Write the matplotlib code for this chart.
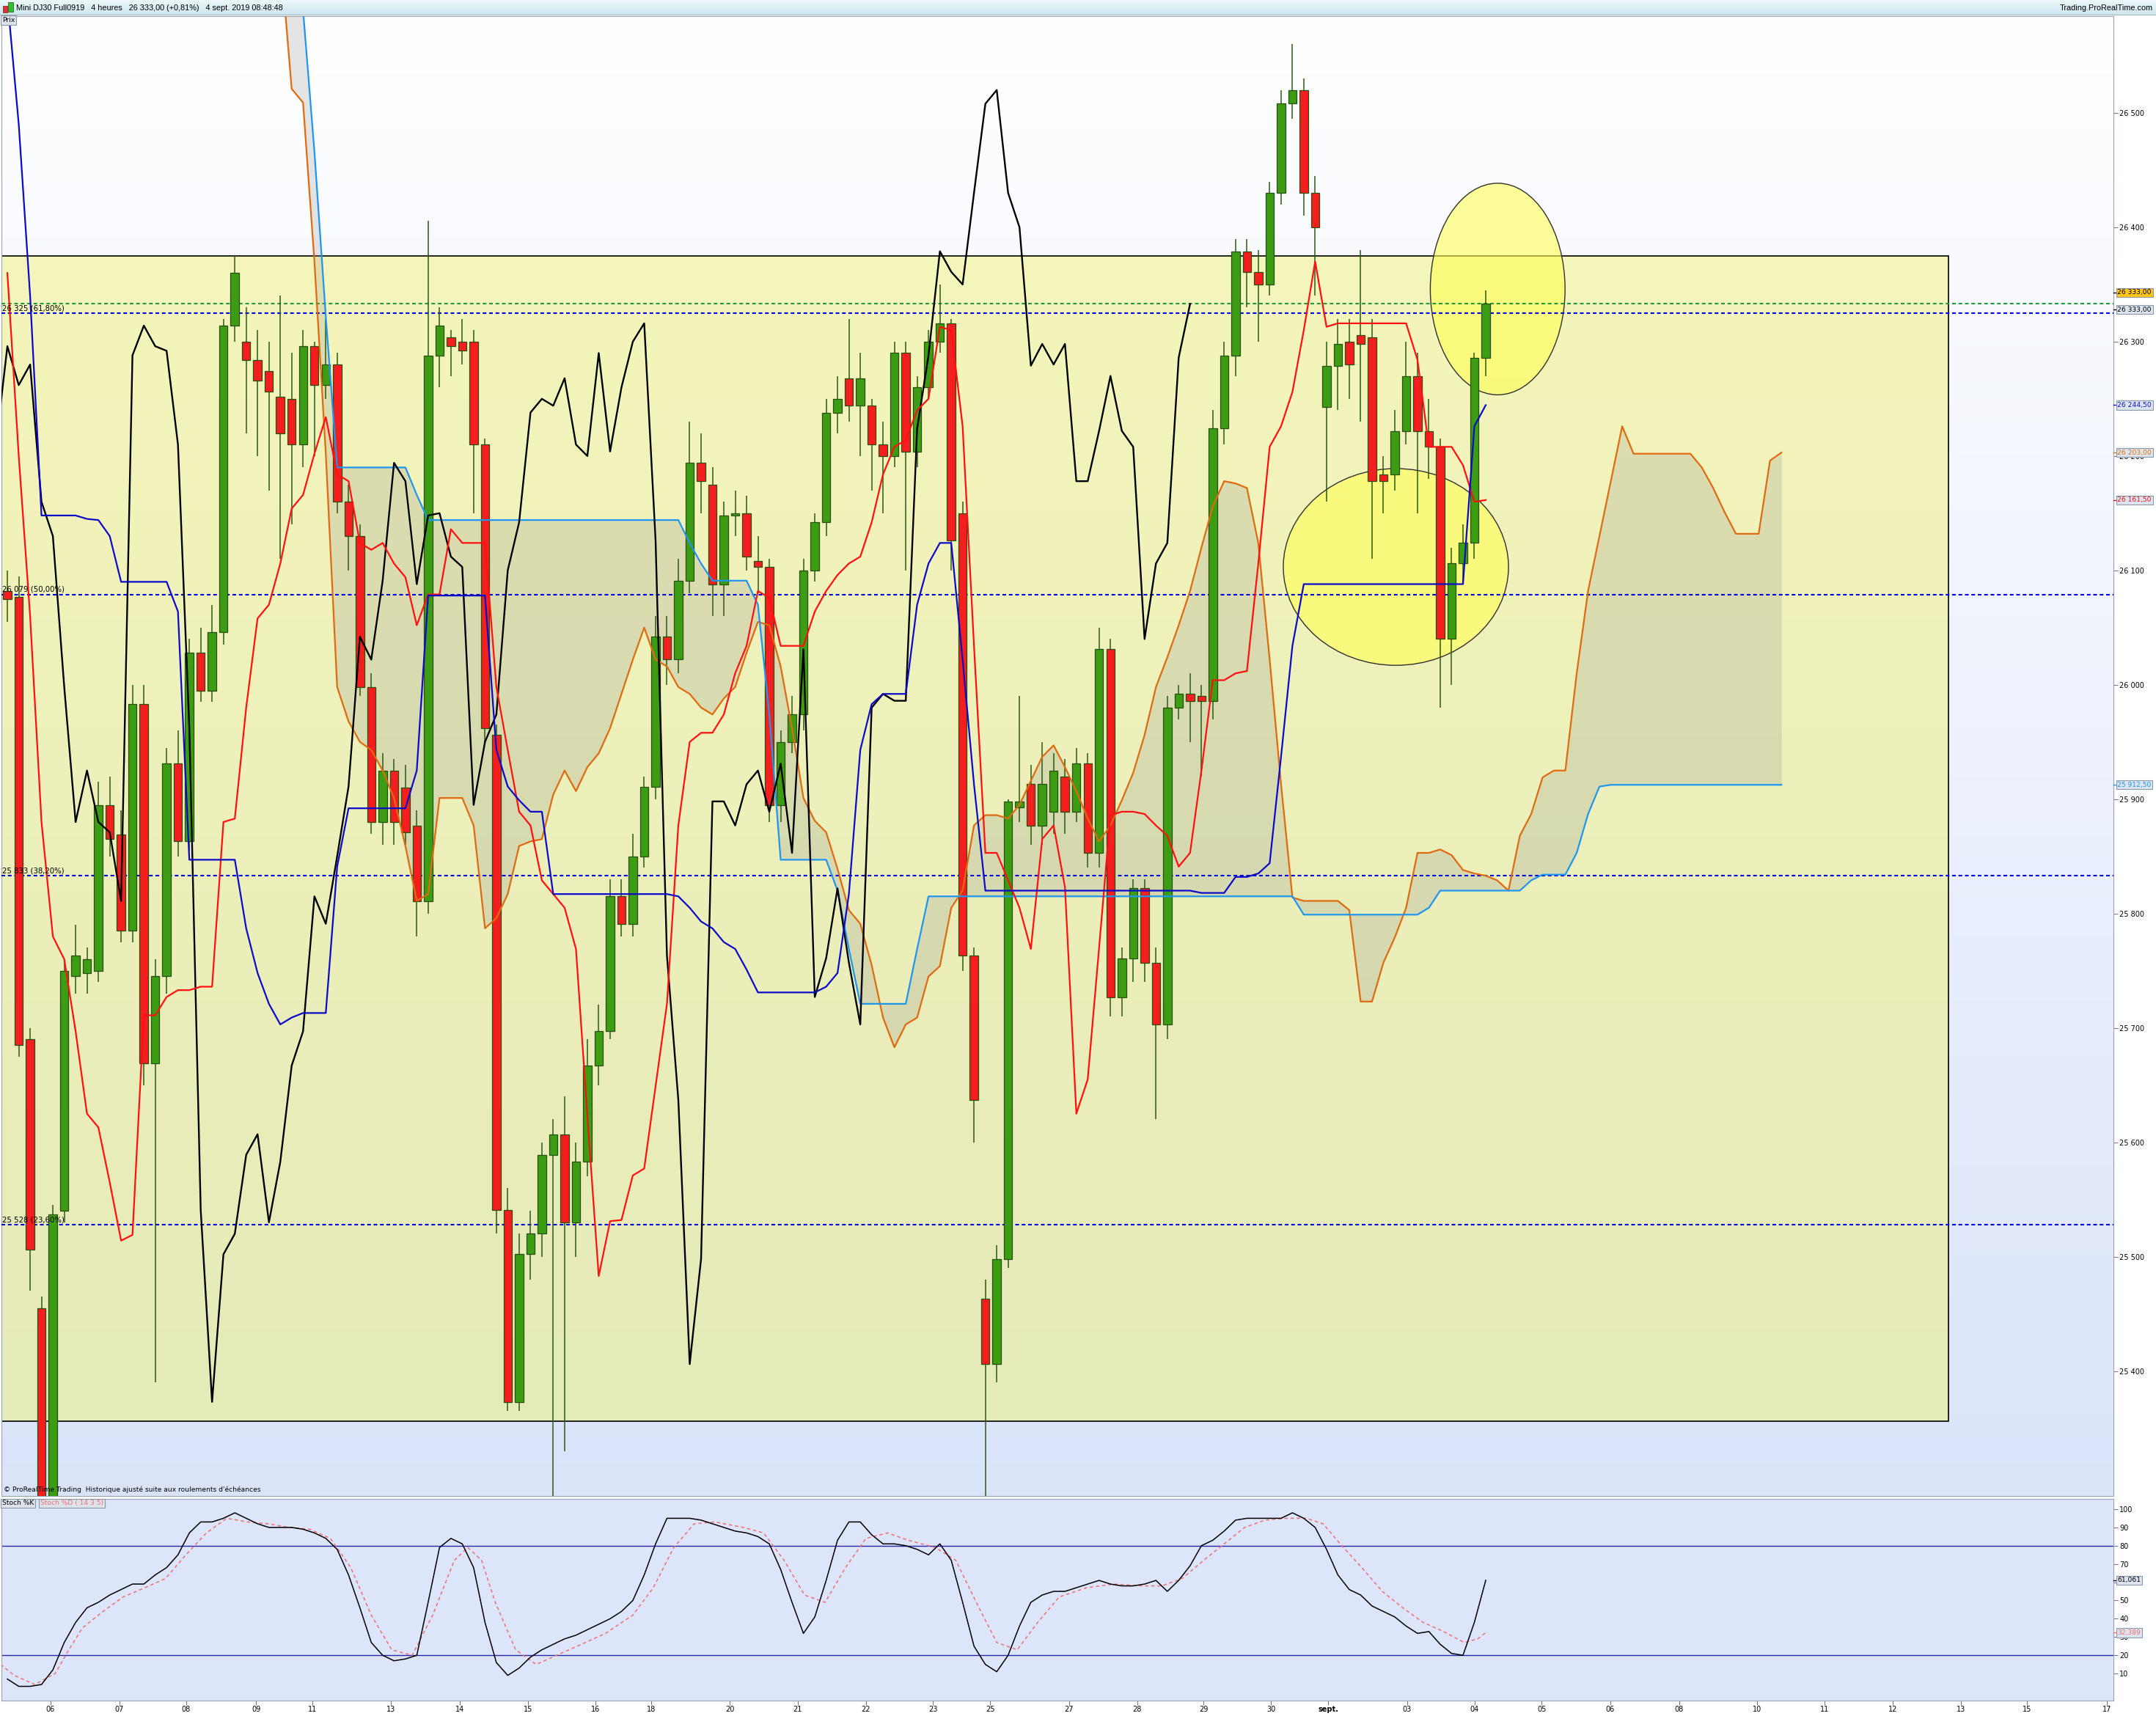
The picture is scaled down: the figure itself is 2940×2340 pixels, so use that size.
import numpy as np
import matplotlib.pyplot as plt
from matplotlib.patches import Rectangle, Ellipse

plt.rcParams['font.family'] = ['DejaVu Sans']

# ---- Mini DJ30 Full0919, 4h bars (bar 0 = 5 Aug 2019 evening) ----
opens = [26082, 26077, 25690, 25455, 25285, 25540, 25745, 25748, 25750, 25895,
         25869, 25785, 25983, 25669, 25745, 25931, 25863, 26028, 25995, 26046,
         26314, 26300, 26284, 26274, 26252, 26250, 26210, 26296, 26262, 26280,
         26160, 26130, 25998, 25880, 25925, 25910, 25877, 25811, 26288, 26304,
         26300, 26300, 26210, 25956, 25541, 25373, 25502, 25520, 25589, 25607,
         25530, 25583, 25667, 25697, 25815, 25791, 25850, 25911, 26042, 26022,
         26091, 26194, 26175, 26088, 26148, 26150, 26108, 26103, 25895, 25950,
         25974, 26100, 26142, 26238, 26268, 26244, 26244, 26210, 26200, 26290,
         26204, 26260, 26300, 26316, 26150, 25763, 25463, 25406, 25498, 25893,
         25913, 25877, 25889, 25920, 25889, 25931, 25853, 26031, 25727, 25761,
         25822, 25757, 25703, 25980, 25992, 25990, 25986, 26224, 26288, 26379,
         26361, 26350, 26430, 26508, 26520, 26430, 26243, 26279, 26300, 26306,
         26304, 26184, 26184, 26222, 26270, 26222, 26208, 26040, 26106, 26124,
         26286]
highs = [26100, 26095, 25700, 25465, 25545, 25760, 25790, 25770, 25915, 25920,
         25890, 26000, 26000, 25760, 25945, 25960, 26040, 26050, 26070, 26320,
         26375, 26330, 26310, 26300, 26340, 26290, 26310, 26300, 26320, 26290,
         26175, 26140, 26010, 25940, 25935, 25930, 25890, 26406, 26330, 26310,
         26320, 26310, 26215, 25965, 25560, 25520, 25540, 25600, 25620, 25640,
         25600, 25690, 25720, 25830, 25830, 25870, 25920, 26060, 26060, 26110,
         26230, 26220, 26190, 26160, 26170, 26165, 26130, 26110, 25960, 25990,
         26110, 26150, 26250, 26270, 26320, 26290, 26250, 26230, 26300, 26300,
         26270, 26310, 26350, 26320, 26160, 25770, 25480, 25510, 25900, 25990,
         25930, 25950, 25940, 25935, 25945, 25940, 26050, 26040, 25770, 25830,
         25830, 25770, 25990, 26000, 26010, 26000, 26240, 26300, 26390, 26390,
         26380, 26440, 26520, 26560, 26530, 26445, 26300, 26320, 26320, 26380,
         26320, 26200, 26240, 26300, 26290, 26250, 26215, 26120, 26140, 26290,
         26345]
lows = [26055, 25675, 25470, 25250, 25260, 25530, 25730, 25730, 25740, 25850,
        25775, 25775, 25650, 25390, 25730, 25850, 25855, 25985, 25985, 26035,
        26300, 26220, 26200, 26170, 26110, 26140, 26190, 26200, 26250, 26150,
        26100, 25990, 25870, 25860, 25860, 25860, 25780, 25800, 26260, 26270,
        26280, 26150, 25950, 25520, 25365, 25365, 25480, 25500, 25290, 25330,
        25500, 25570, 25650, 25690, 25780, 25780, 25840, 25900, 26000, 26010,
        26080, 26150, 26060, 26060, 26130, 26100, 26080, 25880, 25880, 25940,
        25960, 26090, 26130, 26220, 26230, 26200, 26170, 26150, 26190, 26100,
        26190, 26250, 26290, 26100, 25750, 25600, 25290, 25390, 25490, 25880,
        25860, 25860, 25870, 25870, 25880, 25840, 25840, 25710, 25710, 25740,
        25740, 25620, 25690, 25970, 25950, 25920, 25970, 26210, 26270, 26330,
        26300, 26340, 26420, 26495, 26410, 26340, 26160, 26240, 26250, 26230,
        26110, 26150, 26170, 26210, 26150, 26180, 25980, 26000, 26090, 26110,
        26270]
closes = [26075, 25685, 25506, 25280, 25537, 25750, 25763, 25760, 25895, 25865,
          25785, 25983, 25669, 25745, 25931, 25863, 26028, 25995, 26046, 26314,
          26360, 26284, 26266, 26256, 26220, 26210, 26296, 26262, 26280, 26160,
          26130, 25998, 25880, 25925, 25880, 25871, 25811, 26288, 26314, 26296,
          26292, 26210, 25962, 25541, 25373, 25502, 25520, 25589, 25607, 25530,
          25583, 25667, 25697, 25815, 25791, 25850, 25911, 26042, 26022, 26091,
          26194, 26178, 26088, 26148, 26150, 26112, 26103, 25895, 25950, 25974,
          26100, 26142, 26238, 26250, 26244, 26268, 26210, 26200, 26290, 26204,
          26260, 26300, 26316, 26126, 25763, 25637, 25406, 25498, 25898, 25898,
          25877, 25913, 25925, 25889, 25931, 25853, 26031, 25727, 25761, 25822,
          25757, 25703, 25980, 25992, 25986, 25986, 26224, 26288, 26379, 26361,
          26350, 26430, 26508, 26520, 26430, 26400, 26279, 26298, 26280, 26298,
          26178, 26178, 26222, 26270, 26222, 26208, 26040, 26106, 26124, 26286,
          26333]

# Ichimoku lines
tenkan = [26360, 26200, 26060, 25880, 25780, 25760, 25697, 25625, 25613, 25565,
          25514, 25519, 25711, 25711, 25727, 25733, 25733, 25736, 25736, 25880,
          25883, 25980, 26058, 26070, 26106, 26154, 26166, 26202, 26234, 26184,
          26178, 26124, 26118, 26124, 26106, 26094, 26052, 26079, 26079, 26136,
          26124, 26124, 26124, 25998, 25943, 25889, 25877, 25829, 25817, 25805,
          25769, 25623, 25483, 25531, 25532, 25571, 25577, 25649, 25721, 25877,
          25950, 25958, 25958, 25974, 26010, 26034, 26082, 26076, 26034, 26034,
          26034, 26064, 26082, 26096, 26106, 26112, 26142, 26184, 26208, 26214,
          26240, 26250, 26313, 26310, 26226, 26034, 25853, 25853, 25829, 25805,
          25769, 25865, 25877, 25823, 25625, 25655, 25770, 25886, 25889, 25889,
          25887, 25877, 25868, 25841, 25853, 25925, 26004, 26004, 26010, 26012,
          26106, 26208, 26226, 26256, 26310, 26370, 26313, 26316, 26316, 26316,
          26316, 26316, 26316, 26316, 26284, 26208, 26208, 26208, 26192, 26160,
          26161.5]
kijun = [26600, 26490, 26340, 26148, 26148, 26148, 26148, 26145, 26144, 26130,
         26090, 26090, 26090, 26090, 26090, 26064, 25847, 25847, 25847, 25847,
         25847, 25787, 25748, 25721, 25703, 25709, 25713, 25713, 25713, 25841,
         25892, 25892, 25892, 25892, 25892, 25892, 25925, 26078, 26078, 26078,
         26078, 26078, 26078, 25943, 25911, 25899, 25889, 25889, 25817, 25817,
         25817, 25817, 25817, 25817, 25817, 25817, 25817, 25817, 25817, 25815,
         25805, 25793, 25787, 25775, 25769, 25751, 25731, 25731, 25731, 25731,
         25731, 25731, 25736, 25748, 25817, 25943, 25983, 25992, 25992, 25992,
         26070, 26106, 26124, 26124, 26022, 25913, 25820, 25820, 25820, 25820,
         25820, 25820, 25820, 25820, 25820, 25820, 25820, 25820, 25820, 25820,
         25820, 25820, 25820, 25820, 25820, 25818, 25818, 25818, 25832, 25832,
         25835, 25844, 25937, 26034, 26088, 26088, 26088, 26088, 26088, 26088,
         26088, 26088, 26088, 26088, 26088, 26088, 26088, 26088, 26088, 26226,
         26244.5]
senkou_start = 24
senkou_a = [26640,
            26521, 26509, 26370, 26202, 25998, 25968, 25950, 25943, 25925, 25901,
            25859, 25811, 25817, 25901, 25901, 25901, 25877, 25787, 25796, 25817,
            25859, 25863, 25865, 25904, 25925, 25907, 25928, 25940, 25962, 25992,
            26022, 26050, 26022, 26016, 25998, 25992, 25980, 25974, 25988, 25998,
            26028, 26055, 26052, 26016, 25962, 25901, 25881, 25871, 25839, 25803,
            25791, 25755, 25709, 25683, 25703, 25709, 25745, 25754, 25805, 25820,
            25877, 25886, 25886, 25883, 25895, 25916, 25937, 25947, 25928, 25907,
            25883, 25863, 25877, 25899, 25923, 25956, 25998, 26024, 26052, 26082,
            26120, 26156, 26178, 26176, 26172, 26124, 26022, 25913, 25814, 25811,
            25811, 25811, 25811, 25803, 25723, 25723, 25757, 25779, 25805, 25853,
            25853, 25856, 25851, 25838, 25835, 25833, 25829, 25820, 25868, 25887,
            25919, 25925, 25925, 26010, 26082, 26130, 26178, 26226, 26202, 26202,
            26202, 26202, 26202, 26202, 26190, 26172, 26151, 26132, 26132, 26132,
            26196, 26203]
senkou_b = ([26700, 26650, 26590, 26466, 26322, 26190] + [26190] * 6 + [26166, 26144]
            + [26144] * 22 + [26124, 26106, 26091] + [26091] * 3 + [26070, 25974, 25847]
            + [25847] * 4 + [25820, 25769, 25721] + [25721] * 4 + [25769, 25815]
            + [25815] * 32 + [25799] + [25799] * 10 + [25805, 25820] + [25820] * 7
            + [25829, 25834, 25834, 25834, 25853, 25887, 25911] + [25912.5] * 16)
chikou_shift = 26

# Stochastic (14 3 5)
stoch_k = [7, 3, 3, 4, 12, 27, 38, 46, 49, 53, 56, 59, 59, 64, 68, 75, 87, 93, 93, 95,
           98, 95, 92, 90, 90, 90, 89, 87, 84, 78, 64, 46, 27, 20, 17, 18, 20, 49, 79, 84,
           81, 68, 38, 16, 9, 13, 19, 23, 26, 29, 31, 34, 37, 40, 44, 50, 64, 81, 95, 95,
           95, 94, 92, 90, 88, 87, 85, 81, 67, 49, 32, 41, 61, 83, 93, 93, 86, 81, 81, 80,
           78, 75, 81, 72, 49, 25, 15, 11, 20, 36, 49, 53, 55, 55, 57, 59, 61, 59, 58, 58,
           59, 61, 55, 61, 69, 80, 83, 88, 94, 95, 95, 95, 95, 98, 95, 90, 78, 64, 56, 53,
           47, 44, 41, 36, 32, 33, 26, 21, 20, 38, 61.061]
stoch_d_pos = [-0.6, 0.6, 2.4, 4.2, 5.4, 6.6, 8.4, 10.2, 12.1, 13.9, 15.7, 17.5, 19.3, 21.1,
               22.9, 24.8, 26.6, 28.4, 30.2, 32.0, 33.8, 35.6, 37.4, 39.3, 40.5, 41.7, 42.9,
               44.7, 46.5, 48.3, 50.1, 52.6, 55.0, 56.8, 58.6, 60.4, 62.2, 64.7, 66.5, 68.3,
               70.1, 71.9, 73.7, 75.5, 77.4, 79.2, 81.6, 83.4, 85.2, 87.0, 88.8, 90.6, 92.5,
               94.9, 97.3, 99.7, 101.5, 103.3, 105.2, 107.0, 108.8, 110.6, 112.4, 114.2,
               115.7, 117.2, 119.1, 120.9, 122.7, 124.5, 126.3, 128.1, 129.3, 130]
stoch_d = [15, 9, 4, 10, 23, 35, 44, 52, 57, 62, 75, 87, 95, 93, 92, 90, 89, 84, 68, 42,
           23, 20, 42, 72, 79, 72, 49, 23, 15, 20, 25, 32, 42, 57, 79, 92, 93, 90, 87, 72,
           53, 49, 68, 84, 87, 83, 79, 72, 49, 27, 23, 38, 52, 57, 59, 58, 58, 62, 72, 81,
           90, 94, 95, 95, 92, 81, 68, 55, 46, 38, 33, 27, 29, 32.389]

fib_levels = [26325, 26079, 25833, 25528]
fib_pcts = ['61,80%', '50,00%', '38,20%', '23,60%']
last_price = 26333

date_pos = [3.80, 9.84, 15.71, 21.87, 26.81, 33.72, 39.77, 45.76, 51.72, 56.61, 63.52,
            69.49, 75.49, 81.40, 86.42, 93.37, 99.35, 105.17, 111.12, 116.15, 123.08,
            129.03, 134.91, 140.96, 147.0, 153.86, 159.81, 165.8, 171.8, 177.6, 184.6]
date_labels = ['06', '07', '08', '09', '11', '13', '14', '15', '16', '18', '20', '21', '22',
               '23', '25', '27', '28', '29', '30', 'sept.', '03', '04', '05', '06', '08',
               '10', '11', '12', '13', '15', '17']


def fr(v, dec=0):
    s = f"{v:,.{dec}f}"
    return s.replace(',', ' ').replace('.', ',')


W, H = 2940, 2340


def place(x0, y0, x1, y1):
    return [x0 / W, 1 - y1 / H, (x1 - x0) / W, (y1 - y0) / H]


fig = plt.figure(figsize=(W / 100, H / 100), dpi=100)
fig.patch.set_facecolor('white')
ax = fig.add_axes(place(2, 22, 2882, 2040))
ax2 = fig.add_axes(place(2, 2044, 2882, 2319))
hdr = fig.add_axes(place(0, 0, 2940, 21))

XL = (-0.52, 185.2)
YL = (25290.7, 26584.6)

# background gradient
g = np.linspace(0, 1, 256)[:, None, None]
c_top = np.array([1.0, 1.0, 1.0])
c_bot = np.array([0.855, 0.894, 0.98])
ax.imshow(c_top + (c_bot - c_top) * g, extent=(0, 1, 0, 1), transform=ax.transAxes,
          aspect='auto', zorder=0, interpolation='bilinear')

# yellow zone and highlight ellipses
ax.add_patch(Rectangle((XL[0], 25356), 170.7 - XL[0], 26375 - 25356, fc=(0.94, 0.94, 0.44),
                       alpha=0.47, ec='none', zorder=1))
ax.add_patch(Rectangle((XL[0], 25356), 170.7 - XL[0], 26375 - 25356, fc='none',
                       ec='black', lw=1.2, zorder=1.1))
for cx, cy, w, h in [(131.05, 26346, 11.85, 185), (122.1, 26103, 19.8, 172)]:
    ax.add_patch(Ellipse((cx, cy), w, h, fc='#FFFF55', alpha=0.6, ec='none', zorder=1.5))
    ax.add_patch(Ellipse((cx, cy), w, h, fc='none', ec='#303030', lw=1.0, zorder=1.6))

# cloud
xs_s = np.arange(senkou_start, senkou_start + len(senkou_a))
ax.fill_between(xs_s, senkou_a, senkou_b, color='#8c8c8c', alpha=0.22, lw=0, zorder=2)

# fib / price lines
ytr = ax.get_yaxis_transform()
ax.axhline(last_price, color='#1E9A3C', lw=1.5, ls=(0, (2.4, 1.8)), zorder=3)
for lv, pc in zip(fib_levels, fib_pcts):
    ax.axhline(lv, color='#0000E0', lw=1.5, ls=(0, (2.4, 1.8)), zorder=3)
    ax.text(0.0005, lv + 1, f"{fr(lv)} ({pc})", transform=ytr, fontsize=7.3, ha='left',
            va='bottom', color='black', zorder=9)

# candles
x = np.arange(len(opens))
o = np.array(opens, float)
c = np.array(closes, float)
up = c >= o
ax.vlines(x, lows, highs, color='#2A5A14', lw=1.1, zorder=4)
ax.bar(x, np.maximum(np.abs(c - o), 1.5), bottom=np.minimum(o, c), width=0.74,
       color=np.where(up, '#3C9C14', '#F41E1E'), edgecolor='#27500F', lw=0.9, zorder=5)

# ichimoku lines
ax.plot(xs_s, senkou_a, color='#E06A10', lw=1.6, zorder=6)
ax.plot(xs_s, senkou_b, color='#1E96F0', lw=1.6, zorder=6)
ax.plot(np.arange(-1, len(closes) - chikou_shift), closes[chikou_shift - 1:],
        color='black', lw=1.7, zorder=6)
ax.plot(x, tenkan, color='#FF1010', lw=1.6, zorder=7)
ax.plot(x, kijun, color='#0A0AC8', lw=1.6, zorder=7)

ax.set_xlim(*XL)
ax.set_ylim(*YL)
ax.set_xticks([])
yt = list(range(25400, 26501, 100))
ax.set_yticks(yt)
ax.set_yticklabels([fr(v) for v in yt])
for t in ax.get_yticklabels():
    if t.get_text() in ('26 000', '25 500'):
        t.set_fontweight('bold')
ax.tick_params(axis='y', right=True, left=False, labelright=True, labelleft=False,
               length=4, width=0.8, color='#707880', labelsize=7, pad=2)
for s in ax.spines.values():
    s.set_color('#9AA4AE')

ax.text(0.0004, 0.9995, 'Prix', transform=ax.transAxes, ha='left', va='top', fontsize=6.6,
        bbox=dict(boxstyle='square,pad=0.2', fc='#DDE3EA', ec='#8A98A8', lw=0.8), zorder=10)
ax.text(0.001, 0.002, "© ProRealTime Trading  Historique ajusté suite aux roulements d'échéances",
        transform=ax.transAxes, ha='left', va='bottom', fontsize=6.6, zorder=10)


def side(a, y, text, color, fc):
    tr = a.get_yaxis_transform()
    a.plot([1.0, 1.0018], [y, y], transform=tr, color=color, lw=1, clip_on=False, zorder=10)
    a.text(1.0019, y, text, transform=tr, ha='left', va='center', fontsize=6.6, color=color,
           bbox=dict(boxstyle='square,pad=0.18', fc=fc, ec='#8A98A8', lw=0.8),
           clip_on=False, zorder=11)


side(ax, closes[-1] + 10, fr(closes[-1], 2), 'black', '#FFC61A')
side(ax, last_price - 5, fr(last_price, 2), 'black', '#DCE4EE')
side(ax, kijun[-1], fr(kijun[-1], 2), '#1010D0', '#DCE4EE')
side(ax, senkou_a[-1], fr(senkou_a[-1], 2), '#E07010', '#DCE4EE')
side(ax, tenkan[-1], fr(tenkan[-1], 2), '#F01010', '#DCE4EE')
side(ax, senkou_b[-1], fr(senkou_b[-1], 2), '#1E96F0', '#DCE4EE')

# stochastic panel
ax2.set_facecolor('#DCE5FA')
ax2.axhline(80, color='#2828A8', lw=1.0, zorder=2)
ax2.axhline(20, color='#2828A8', lw=1.0, zorder=2)
ax2.plot(stoch_d_pos, stoch_d, color='#F07070', lw=1.1, ls=(0, (3, 2.5)), zorder=3)
ax2.plot(x, stoch_k, color='black', lw=1.1, zorder=4)
ax2.set_xlim(*XL)
ax2.set_ylim(-4.8, 105.6)
st = list(range(10, 101, 10))
ax2.set_yticks(st)
ax2.set_yticklabels([str(v) for v in st])
for t in ax2.get_yticklabels():
    if t.get_text() in ('50', '100'):
        t.set_fontweight('bold')
ax2.tick_params(axis='y', right=True, left=False, labelright=True, labelleft=False,
                length=4, width=0.8, color='#707880', labelsize=7, pad=2)
ax2.set_xticks(date_pos)
ax2.set_xticklabels(date_labels)
for t in ax2.get_xticklabels():
    if t.get_text() == 'sept.':
        t.set_fontweight('bold')
ax2.tick_params(axis='x', length=4, width=0.8, color='#707880', labelsize=7, pad=1)
for s in ax2.spines.values():
    s.set_color('#9AA4AE')
side(ax2, stoch_k[-1], fr(stoch_k[-1], 3), 'black', '#DCE4EE')
side(ax2, stoch_d[-1], fr(stoch_d[-1], 3), '#F07070', '#DCE4EE')
ax2.text(0.0004, 0.995, 'Stoch %K', transform=ax2.transAxes, ha='left', va='top', fontsize=6.6,
         bbox=dict(boxstyle='square,pad=0.2', fc='#DDE3EA', ec='#8A98A8', lw=0.8), zorder=10)
ax2.text(0.0185, 0.995, 'Stoch %D ( 14 3 5)', transform=ax2.transAxes, ha='left', va='top',
         fontsize=6.6, color='#F07070',
         bbox=dict(boxstyle='square,pad=0.2', fc='#DDE3EA', ec='#8A98A8', lw=0.8), zorder=10)

# header bar
hg = np.linspace(0, 1, 32)[:, None, None]
h_top = np.array([0.93, 0.97, 0.98])
h_bot = np.array([0.80, 0.90, 0.93])
hdr.imshow(h_top + (h_bot - h_top) * hg, extent=(0, 1, 0, 1), aspect='auto')
hdr.set_xlim(0, 1)
hdr.set_ylim(0, 1)
hdr.axis('off')
hdr.add_patch(Rectangle((0.0012, 0.18), 0.0022, 0.45, fc='#E83030', ec='#803030', lw=0.6))
hdr.add_patch(Rectangle((0.0038, 0.25), 0.0022, 0.6, fc='#30C030', ec='#306030', lw=0.6))
hdr.text(0.0075, 0.5, f"Mini DJ30 Full0919   4 heures   {fr(closes[-1], 2)} (+0,81%)   4 sept. 2019 08:48:48",
         fontsize=7.8, family='Liberation Sans', ha='left', va='center')
hdr.text(0.9985, 0.5, 'Trading.ProRealTime.com', fontsize=7.8, family='Liberation Sans',
         ha='right', va='center')
hdr.axhline(0.02, color='#9AA4AE', lw=1.2)

fig.savefig('out.png', dpi=100)
